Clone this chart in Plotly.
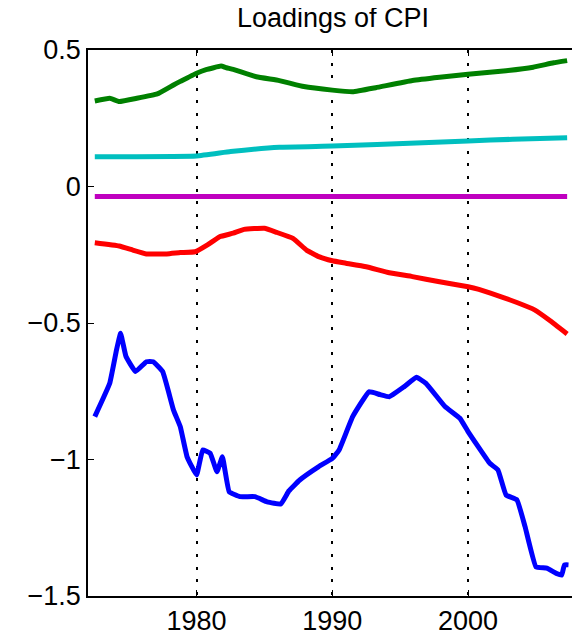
import plotly.graph_objects as go

# ---- data ----
green_years = [1972.5, 1973.6, 1974.3, 1975.6, 1977.1, 1978.3, 1978.8, 1980.0, 1980.7, 1981.8, 1982.2, 1982.7,
               1984.4, 1986.1, 1987.9, 1990.0, 1991.5, 1993.2, 1995.9, 1997.9, 2000.0, 2002.8, 2004.8, 2006.3, 2007.3]
green_vals = [0.313, 0.323, 0.311, 0.323, 0.339, 0.372, 0.385, 0.415, 0.428, 0.441, 0.435, 0.429,
              0.402, 0.388, 0.366, 0.353, 0.347, 0.362, 0.388, 0.400, 0.411, 0.424, 0.437, 0.453, 0.461]

cyan_years = [1972.5, 1980.0, 1982.5, 1986.1, 1990.0, 1993.3, 2000.0, 2003.3, 2007.3]
cyan_vals = [0.109, 0.112, 0.128, 0.144, 0.148, 0.154, 0.167, 0.173, 0.179]

magenta_years = [1972.5, 2007.3]
magenta_vals = [-0.037, -0.037]

red_years = [1972.5, 1974.3, 1975.3, 1976.3, 1977.8, 1978.8, 1979.9, 1980.8, 1981.7, 1982.7, 1983.5, 1985.0,
             1985.9, 1987.1, 1988.1, 1989.0, 1990.0, 1991.0, 1992.5, 1994.2, 1995.9, 1997.9, 2000.0, 2000.8,
             2002.5, 2003.6, 2004.9, 2006.0, 2007.3]
red_vals = [-0.206, -0.218, -0.233, -0.247, -0.247, -0.242, -0.239, -0.214, -0.184, -0.171, -0.157, -0.153,
            -0.168, -0.190, -0.233, -0.257, -0.272, -0.281, -0.294, -0.316, -0.330, -0.349, -0.367, -0.377,
            -0.405, -0.425, -0.452, -0.490, -0.540]

blue_years = [1972.5, 1973.6, 1974.1, 1974.4, 1974.8, 1975.5, 1976.3, 1976.8, 1977.5, 1978.3, 1978.8, 1979.3,
              1980.0, 1980.45, 1981.0, 1981.5, 1981.9, 1982.4, 1983.2, 1984.3, 1985.2, 1986.2, 1986.8, 1987.6,
              1989.0, 1990.0, 1990.5, 1991.5, 1992.7, 1993.5, 1994.2, 1995.3, 1996.2, 1996.9, 1998.3, 1999.4,
              2000.0, 2001.6, 2002.2, 2002.8, 2003.6, 2004.2, 2005.0, 2005.8, 2006.5, 2006.9, 2007.1, 2007.4]
blue_vals = [-0.843, -0.721, -0.599, -0.538, -0.623, -0.678, -0.642, -0.642, -0.678, -0.819, -0.880, -0.990,
             -1.057, -0.965, -0.977, -1.045, -0.990, -1.118, -1.136, -1.136, -1.155, -1.163, -1.115, -1.075,
             -1.026, -0.996, -0.965, -0.843, -0.752, -0.762, -0.770, -0.733, -0.699, -0.721, -0.806, -0.849,
             -0.898, -1.014, -1.038, -1.130, -1.148, -1.246, -1.393, -1.398, -1.417, -1.423, -1.386, -1.386]

x_ticks = [1980, 1990, 2000]
y_ticks = [0.5, 0, -0.5, -1, -1.5]
y_ticktext = ["0.5", "0", "\u22120.5", "\u22121", "\u22121.5"]
title_text = "Loadings of CPI"

fig = go.Figure()
series = [
    (blue_years, blue_vals, "#0000FF"),
    (red_years, red_vals, "#FF0000"),
    (magenta_years, magenta_vals, "#BF00BF"),
    (cyan_years, cyan_vals, "#00BFBF"),
    (green_years, green_vals, "#008000"),
]
for xs, ys, col in series:
    fig.add_trace(go.Scatter(x=xs, y=ys, mode="lines",
                             line=dict(color=col, width=5, shape="spline", smoothing=0.3),
                             showlegend=False, hoverinfo="skip"))

font_family = "Liberation Sans, Arial, sans-serif"
fig.update_layout(
    width=580, height=635,
    margin=dict(l=80, r=10, t=42, b=47),
    paper_bgcolor="white", plot_bgcolor="white",
    font=dict(family=font_family, size=27, color="#000000"),
    title=dict(text=title_text, x=0.5, xref="paper", xanchor="center",
               y=1, yref="container", yanchor="top", pad=dict(t=0, b=0),
               font=dict(family=font_family, size=27, color="#000000")),
)
fig.update_xaxes(
    range=[1972.0, 2008.1], tickvals=x_ticks, ticks="inside", ticklen=6, tickcolor="black",
    showline=True, linecolor="black", linewidth=1.5, mirror="ticks", automargin=False,
    showgrid=True, gridcolor="black", gridwidth=1.5, griddash="3px,9.6px",
    zeroline=False, tickfont=dict(size=27), ticklabelstandoff=0,
)
fig.update_yaxes(
    range=[-1.5, 0.5], tickvals=y_ticks, ticktext=y_ticktext, ticks="inside", ticklen=6, tickcolor="black",
    showline=True, linecolor="black", linewidth=1.5, mirror="ticks", automargin=False,
    showgrid=False, zeroline=False, tickfont=dict(size=27), ticklabelstandoff=0,
)

fig.write_html("out.html")
